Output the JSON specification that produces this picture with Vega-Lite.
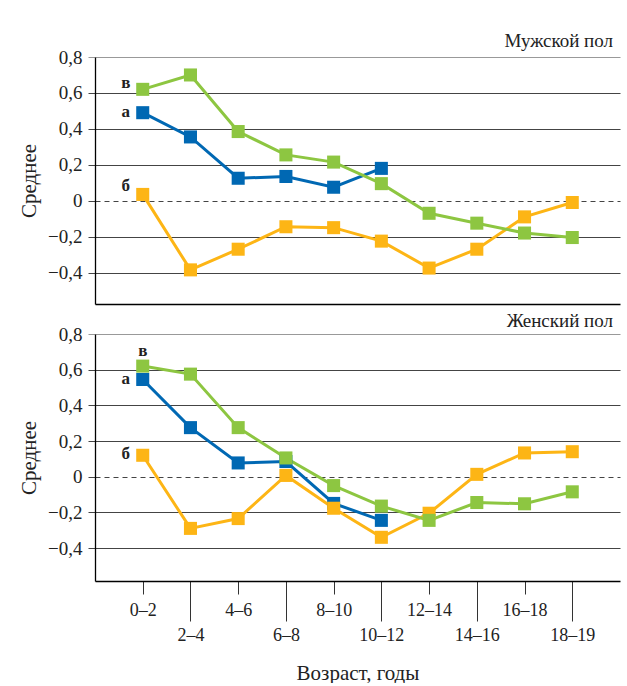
{
  "$schema": "https://vega.github.io/schema/vega-lite/v6.json",
  "padding": {"left": 18, "top": 32, "right": 7, "bottom": 0},
  "spacing": 8,
  "config": {
    "view": {"stroke": null},
    "font": "Liberation Serif",
    "title": {"font": "Liberation Serif", "fontSize": 19, "fontWeight": "normal", "color": "#222", "anchor": "end", "frame": "group", "dx": -7},
    "axis": {"labelFont": "Liberation Serif", "titleFont": "Liberation Serif", "labelColor": "#222", "titleColor": "#222", "titleFontWeight": "normal"},
    "text": {"font": "Liberation Serif"}
  },
  "datasets": {
    "main": [
      {"sex": "m", "series": "а", "age": "0–2", "value": 0.49},
      {"sex": "m", "series": "а", "age": "2–4", "value": 0.355},
      {"sex": "m", "series": "а", "age": "4–6", "value": 0.125},
      {"sex": "m", "series": "а", "age": "6–8", "value": 0.135},
      {"sex": "m", "series": "а", "age": "8–10", "value": 0.075},
      {"sex": "m", "series": "а", "age": "10–12", "value": 0.18},
      {"sex": "m", "series": "б", "age": "0–2", "value": 0.035},
      {"sex": "m", "series": "б", "age": "2–4", "value": -0.385},
      {"sex": "m", "series": "б", "age": "4–6", "value": -0.27},
      {"sex": "m", "series": "б", "age": "6–8", "value": -0.145},
      {"sex": "m", "series": "б", "age": "8–10", "value": -0.15},
      {"sex": "m", "series": "б", "age": "10–12", "value": -0.225},
      {"sex": "m", "series": "б", "age": "12–14", "value": -0.375},
      {"sex": "m", "series": "б", "age": "14–16", "value": -0.27},
      {"sex": "m", "series": "б", "age": "16–18", "value": -0.09},
      {"sex": "m", "series": "б", "age": "18–19", "value": -0.01},
      {"sex": "m", "series": "в", "age": "0–2", "value": 0.62},
      {"sex": "m", "series": "в", "age": "2–4", "value": 0.7},
      {"sex": "m", "series": "в", "age": "4–6", "value": 0.385},
      {"sex": "m", "series": "в", "age": "6–8", "value": 0.255},
      {"sex": "m", "series": "в", "age": "8–10", "value": 0.215},
      {"sex": "m", "series": "в", "age": "10–12", "value": 0.095},
      {"sex": "m", "series": "в", "age": "12–14", "value": -0.07},
      {"sex": "m", "series": "в", "age": "14–16", "value": -0.125},
      {"sex": "m", "series": "в", "age": "16–18", "value": -0.18},
      {"sex": "m", "series": "в", "age": "18–19", "value": -0.205},
      {"sex": "f", "series": "а", "age": "0–2", "value": 0.545},
      {"sex": "f", "series": "а", "age": "2–4", "value": 0.275},
      {"sex": "f", "series": "а", "age": "4–6", "value": 0.077},
      {"sex": "f", "series": "а", "age": "6–8", "value": 0.085},
      {"sex": "f", "series": "а", "age": "8–10", "value": -0.15},
      {"sex": "f", "series": "а", "age": "10–12", "value": -0.245},
      {"sex": "f", "series": "б", "age": "0–2", "value": 0.12},
      {"sex": "f", "series": "б", "age": "2–4", "value": -0.29},
      {"sex": "f", "series": "б", "age": "4–6", "value": -0.235},
      {"sex": "f", "series": "б", "age": "6–8", "value": 0.007},
      {"sex": "f", "series": "б", "age": "8–10", "value": -0.177},
      {"sex": "f", "series": "б", "age": "10–12", "value": -0.34},
      {"sex": "f", "series": "б", "age": "12–14", "value": -0.205},
      {"sex": "f", "series": "б", "age": "14–16", "value": 0.013},
      {"sex": "f", "series": "б", "age": "16–18", "value": 0.133},
      {"sex": "f", "series": "б", "age": "18–19", "value": 0.14},
      {"sex": "f", "series": "в", "age": "0–2", "value": 0.62},
      {"sex": "f", "series": "в", "age": "2–4", "value": 0.575},
      {"sex": "f", "series": "в", "age": "4–6", "value": 0.275},
      {"sex": "f", "series": "в", "age": "6–8", "value": 0.105},
      {"sex": "f", "series": "в", "age": "8–10", "value": -0.05},
      {"sex": "f", "series": "в", "age": "10–12", "value": -0.165},
      {"sex": "f", "series": "в", "age": "12–14", "value": -0.245},
      {"sex": "f", "series": "в", "age": "14–16", "value": -0.145},
      {"sex": "f", "series": "в", "age": "16–18", "value": -0.152},
      {"sex": "f", "series": "в", "age": "18–19", "value": -0.085}
    ],
    "labels": [
      {"sex": "m", "age": "0–2", "value": 0.655, "label": "в"},
      {"sex": "m", "age": "0–2", "value": 0.495, "label": "а"},
      {"sex": "m", "age": "0–2", "value": 0.08, "label": "б"},
      {"sex": "f", "age": "0–2", "value": 0.707, "label": "в"},
      {"sex": "f", "age": "0–2", "value": 0.547, "label": "а"},
      {"sex": "f", "age": "0–2", "value": 0.125, "label": "б"}
    ]
  },
  "vconcat": [
    {
      "width": 525,
      "height": 247,
      "title": {"text": "Мужской пол", "offset": -3},
      "layer": [
        {
          "data": {"name": "main"},
          "transform": [{"filter": "datum.sex === 'm'"}],
          "mark": {"type": "line", "strokeWidth": 3, "point": {"shape": "square", "size": 170, "filled": true, "opacity": 1}},
          "encoding": {
            "x": {"field": "age", "type": "ordinal", "scale": {"type": "point", "padding": 1.06, "domain": ["0–2","2–4","4–6","6–8","8–10","10–12","12–14","14–16","16–18","18–19"]},
              "axis": {"title": null, "labels": false, "ticks": false, "domainColor": "#000", "domainWidth": 1.3}},
            "y": {"field": "value", "type": "quantitative", "scale": {"domain": [-0.575, 0.8], "nice": false, "zero": false},
              "axis": {"values": [-0.4, -0.2, 0, 0.2, 0.4, 0.6, 0.8], "labelExpr": "datum.value == 0 ? '0' : replace(format(datum.value, '.1f'), '.', ',')",
                "title": "Среднее", "titleFontSize": 21, "titlePadding": 8, "labelFontSize": 19, "labelPadding": 6, "tickSize": 7,
                "domainColor": "#000", "domainWidth": 1.3,
                "gridColor": {"condition": {"test": "datum.value === 0.8", "value": "#999"}, "value": "#444"},
                "tickColor": {"condition": {"test": "datum.value === 0.8", "value": "#999"}, "value": "#444"},
                "gridDash": {"condition": {"test": "datum.value === 0", "value": [5, 4]}, "value": []}}},
            "color": {"field": "series", "type": "nominal", "scale": {"domain": ["а","б","в"], "range": ["#0068b3", "#fdb515", "#8dc641"]}, "legend": null}
          }
        },
        {
          "data": {"name": "labels"},
          "transform": [{"filter": "datum.sex === 'm'"}],
          "mark": {"type": "text", "fontWeight": "bold", "fontSize": 17, "dx": -17, "baseline": "middle", "color": "#222"},
          "encoding": {
            "x": {"field": "age", "type": "ordinal"},
            "y": {"field": "value", "type": "quantitative"},
            "text": {"field": "label"}
          }
        }
      ]
    },
    {
      "width": 525,
      "height": 247,
      "title": {"text": "Женский пол", "offset": -6},
      "layer": [
        {
          "data": {"name": "main"},
          "transform": [{"filter": "datum.sex === 'f'"}],
          "mark": {"type": "line", "strokeWidth": 3, "point": {"shape": "square", "size": 170, "filled": true, "opacity": 1}},
          "encoding": {
            "x": {"field": "age", "type": "ordinal", "scale": {"type": "point", "padding": 1.06, "domain": ["0–2","2–4","4–6","6–8","8–10","10–12","12–14","14–16","16–18","18–19"]},
              "axis": {"title": "Возраст, годы", "titleFontSize": 21, "titlePadding": 18, "labelAngle": 0, "labelFontSize": 18,
                "domainColor": "#000", "domainWidth": 1.3, "tickColor": "#333",
                "tickSize": {"condition": {"test": "indexof(['2–4','6–8','10–12','14–16','18–19'], datum.value) >= 0", "value": 40}, "value": 13},
                "labelPadding": {"condition": {"test": "indexof(['2–4','6–8','10–12','14–16','18–19'], datum.value) >= 0", "value": 5}, "value": 7}}},
            "y": {"field": "value", "type": "quantitative", "scale": {"domain": [-0.585, 0.8], "nice": false, "zero": false},
              "axis": {"values": [-0.4, -0.2, 0, 0.2, 0.4, 0.6, 0.8], "labelExpr": "datum.value == 0 ? '0' : replace(format(datum.value, '.1f'), '.', ',')",
                "title": "Среднее", "titleFontSize": 21, "titlePadding": 8, "labelFontSize": 19, "labelPadding": 6, "tickSize": 7,
                "domainColor": "#000", "domainWidth": 1.3,
                "gridColor": {"condition": {"test": "datum.value === 0.8", "value": "#999"}, "value": "#444"},
                "tickColor": {"condition": {"test": "datum.value === 0.8", "value": "#999"}, "value": "#444"},
                "gridDash": {"condition": {"test": "datum.value === 0", "value": [5, 4]}, "value": []}}},
            "color": {"field": "series", "type": "nominal", "scale": {"domain": ["а","б","в"], "range": ["#0068b3", "#fdb515", "#8dc641"]}, "legend": null}
          }
        },
        {
          "data": {"name": "labels"},
          "transform": [{"filter": "datum.sex === 'f' && datum.label !== 'в'"}],
          "mark": {"type": "text", "fontWeight": "bold", "fontSize": 17, "dx": -17, "baseline": "middle", "color": "#222"},
          "encoding": {
            "x": {"field": "age", "type": "ordinal"},
            "y": {"field": "value", "type": "quantitative"},
            "text": {"field": "label"}
          }
        },
        {
          "data": {"name": "labels"},
          "transform": [{"filter": "datum.sex === 'f' && datum.label === 'в'"}],
          "mark": {"type": "text", "fontWeight": "bold", "fontSize": 17, "baseline": "middle", "color": "#222"},
          "encoding": {
            "x": {"field": "age", "type": "ordinal"},
            "y": {"field": "value", "type": "quantitative"},
            "text": {"field": "label"}
          }
        }
      ]
    }
  ]
}
